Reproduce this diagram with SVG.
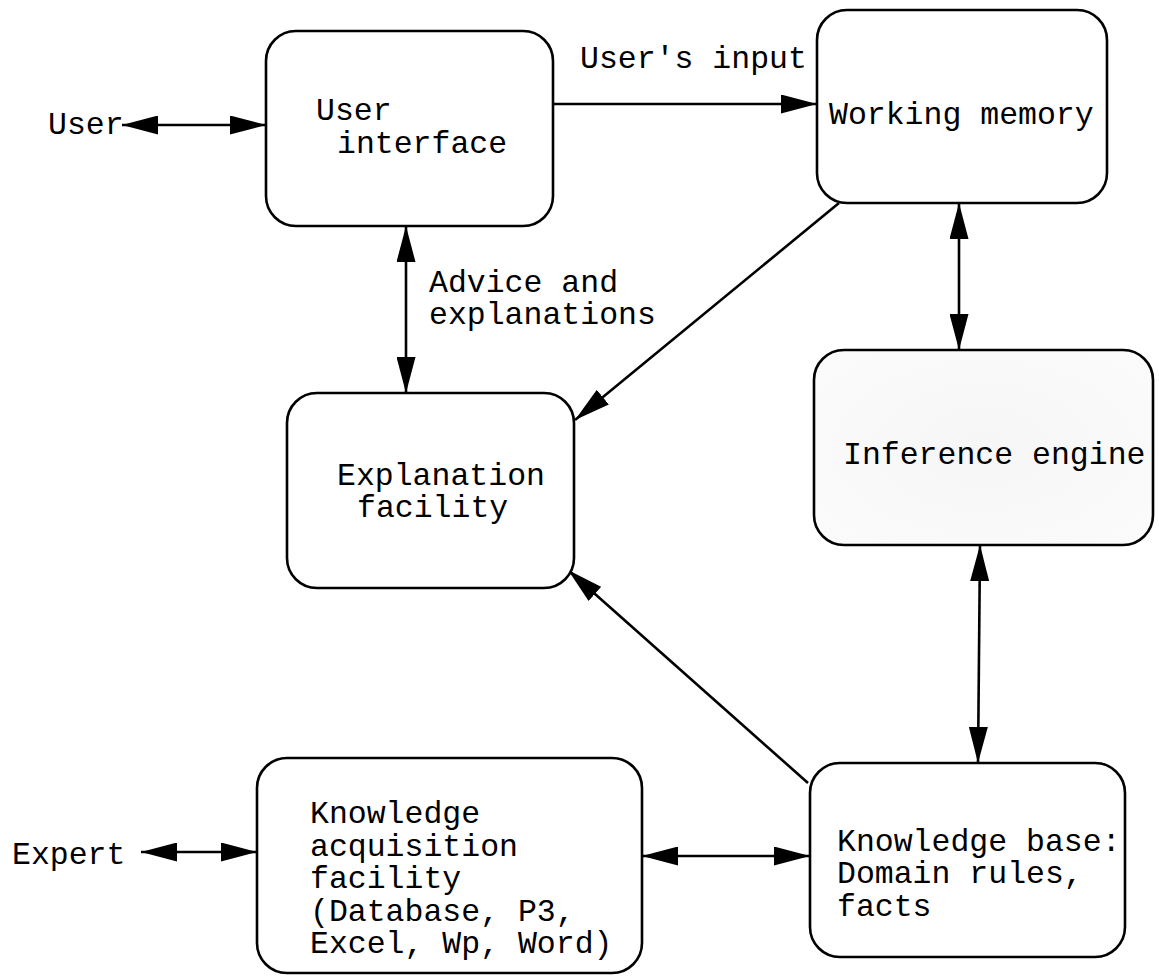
<svg xmlns="http://www.w3.org/2000/svg" width="1159" height="976" viewBox="0 0 1159 976">
<style>
.box{fill:#fff;stroke:#000;stroke-width:2.6}
.ie{fill:url(#ieg)}
.t{font-family:"Liberation Mono","Courier New",monospace;font-size:31.5px;fill:#000}
.c{stroke:#000;stroke-width:2.6;fill:none}
.e{marker-end:url(#ah)}
.b{marker-start:url(#ah);marker-end:url(#ah)}
</style>
<defs>
<marker id="ah" markerUnits="userSpaceOnUse" markerWidth="36" markerHeight="19" refX="36" refY="9.5" orient="auto-start-reverse" viewBox="0 0 36 19">
<path d="M0,0 L36,9.5 L0,19 z" fill="#000"/>
</marker>
<radialGradient id="ieg" cx="0.5" cy="0.5" r="0.7">
<stop offset="0" stop-color="#f6f6f6"/>
<stop offset="1" stop-color="#fbfbfb"/>
</radialGradient>
</defs>
<rect width="1159" height="976" fill="#fff"/>
<g id="connectors">
<line class="c b" x1="122" y1="125" x2="266" y2="125"/>
<line class="c e" x1="553" y1="104" x2="817" y2="104"/>
<line class="c b" x1="406" y1="226" x2="406" y2="393"/>
<line class="c e" x1="839" y1="203" x2="575" y2="420"/>
<line class="c b" x1="959" y1="203" x2="959" y2="350"/>
<line class="c b" x1="980" y1="545" x2="978" y2="763"/>
<line class="c e" x1="808" y1="783" x2="568" y2="570"/>
<line class="c b" x1="642" y1="856" x2="810" y2="856"/>
<line class="c b" x1="141" y1="852" x2="257" y2="852"/>
</g>
<g id="label-user"><text class="t" x="48" y="134">User</text></g>
<g id="label-expert"><text class="t" x="12" y="864">Expert</text></g>
<g id="label-users-input"><text class="t" x="580" y="68">User's input</text></g>
<g id="label-advice"><text class="t" x="429" y="292">Advice and</text><text class="t" x="429" y="324">explanations</text></g>
<g id="user-interface">
<rect class="box" x="266" y="31" width="287" height="195" rx="30"/>
<text class="t" x="316" y="120">User</text>
<text class="t" x="337" y="153">interface</text>
</g>
<g id="working-memory">
<rect class="box" x="817" y="10" width="290" height="193" rx="30"/>
<text class="t" x="829" y="124">Working memory</text>
</g>
<g id="explanation-facility">
<rect class="box" x="287" y="393" width="287" height="195" rx="30"/>
<text class="t" x="337" y="485">Explanation</text>
<text class="t" x="357" y="517">facility</text>
</g>
<g id="inference-engine">
<rect class="box ie" x="814" y="350" width="339" height="195" rx="30"/>
<text class="t" x="843" y="464">Inference engine</text>
</g>
<g id="knowledge-acquisition">
<rect class="box" x="257" y="758" width="385" height="215" rx="30"/>
<text class="t" x="310" y="823">Knowledge</text>
<text class="t" x="310" y="856">acquisition</text>
<text class="t" x="310" y="888">facility</text>
<text class="t" x="310" y="921">(Database, P3,</text>
<text class="t" x="310" y="953">Excel, Wp, Word)</text>
</g>
<g id="knowledge-base">
<rect class="box" x="810" y="763" width="315" height="194" rx="30"/>
<text class="t" x="837" y="851">Knowledge base:</text>
<text class="t" x="837" y="883">Domain rules,</text>
<text class="t" x="837" y="916">facts</text>
</g>
</svg>
